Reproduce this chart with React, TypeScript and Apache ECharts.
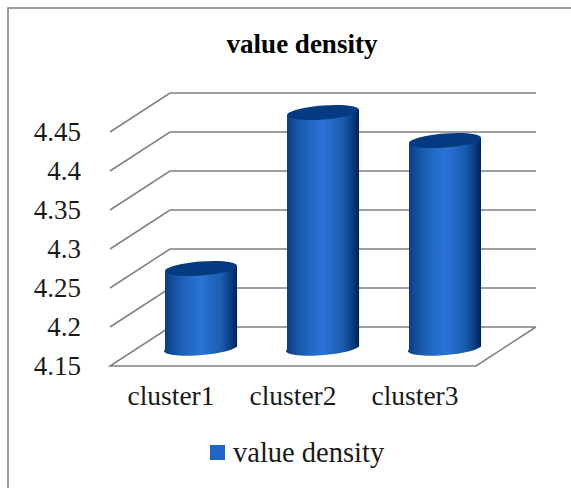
import React, { useEffect, useRef } from "react";
import * as echarts from "echarts";

const categories = ["cluster1", "cluster2", "cluster3"];
const seriesName = "value density";
const values = [4.25, 4.45, 4.414];
const yTicks = [4.15, 4.2, 4.25, 4.3, 4.35, 4.4, 4.45];

const DEPTH_X = 60;
const DEPTH_Y = 39;
const SERIF = "'Liberation Serif', 'Times New Roman', serif";
const GRID_COLOR = "#808080";

export default function App() {
  const ref = useRef<HTMLDivElement>(null);
  useEffect(() => {
    const chart = echarts.init(ref.current!, null, { renderer: "svg" });
    const bodyFill = new echarts.graphic.LinearGradient(0, 0, 1, 0, [
      { offset: 0, color: "#0b3c7e" },
      { offset: 0.2, color: "#1a5cb0" },
      { offset: 0.5, color: "#2a74d8" },
      { offset: 0.78, color: "#1a5cae" },
      { offset: 0.92, color: "#0a3a7c" },
      { offset: 1, color: "#02205a" },
    ]);
    const option: any = {
      animation: false,
      backgroundColor: "#ffffff",
      title: {
        text: seriesName,
        left: 297,
        top: 25,
        textAlign: "center",
        textStyle: { fontFamily: SERIF, fontSize: 27, fontWeight: "bold", color: "#000000" },
      },
      legend: {
        data: [seriesName],
        left: 205,
        top: 433,
        icon: "rect",
        itemWidth: 15,
        itemHeight: 15,
        itemGap: 0,
        textStyle: { fontFamily: SERIF, fontSize: 28.5, color: "#1a1a1a", padding: [0, 0, 0, 3] },
      },
      grid: { left: 110, top: 132, width: 366, height: 234 },
      xAxis: {
        type: "category",
        data: categories,
        axisLine: { show: false },
        axisTick: { show: false },
        axisLabel: { fontFamily: SERIF, fontSize: 27.5, color: "#1a1a1a", margin: 15 },
      },
      yAxis: {
        type: "value",
        min: 4.15,
        max: 4.45,
        interval: 0.05,
        axisLine: { show: false },
        axisTick: { show: false },
        splitLine: { show: false },
        axisLabel: { fontFamily: SERIF, fontSize: 27, color: "#1a1a1a", margin: 29 },
      },
      graphic: [
        {
          type: "polyline",
          silent: true,
          shape: { points: [[8, 488], [8, 8], [571, 8]] },
          style: { stroke: "#7f7f7f", lineWidth: 1.5, fill: "none" },
        },
      ],
      series: [
        {
          type: "custom",
          name: "walls",
          silent: true,
          z: 1,
          data: yTicks.map((t) => [0, t]),
          encode: { x: 0, y: 1 },
          renderItem: (params: any, api: any) => {
            const y = api.coord([0, api.value(1)])[1];
            const x0 = params.coordSys.x;
            const x1 = x0 + params.coordSys.width;
            const points =
              params.dataIndex === 0
                ? [
                    [x1 + DEPTH_X, y - DEPTH_Y],
                    [x0 + DEPTH_X, y - DEPTH_Y],
                    [x0, y],
                    [x1, y],
                    [x1 + DEPTH_X, y - DEPTH_Y],
                  ]
                : [
                    [x0, y],
                    [x0 + DEPTH_X, y - DEPTH_Y],
                    [x1 + DEPTH_X, y - DEPTH_Y],
                  ];
            return {
              type: "polyline",
              shape: { points },
              style: { stroke: GRID_COLOR, lineWidth: 1.5, fill: "none" },
            };
          },
        },
        {
          type: "custom",
          name: seriesName,
          silent: true,
          z: 2,
          itemStyle: { color: "#1f66c6" },
          data: values.map((v, i) => [i, v]),
          encode: { x: 0, y: 1 },
          renderItem: (_params: any, api: any) => {
            const i = api.value(0);
            const top = api.coord([i, api.value(1)]);
            const base = api.coord([i, yTicks[0]]);
            const cx = top[0] + DEPTH_X / 2;
            const yTop = top[1] - DEPTH_Y / 2;
            const yBase = base[1] - DEPTH_Y / 2;
            const rx = 36.1;
            const ry = 7;
            const rotDeg = 4.5;
            const rad = (rotDeg * Math.PI) / 180;
            const s = Math.sin(rad);
            const c = Math.cos(rad);
            const halfW = Math.sqrt(rx * rx * c * c + ry * ry * s * s);
            const tilt = ((rx * rx - ry * ry) * s * c) / halfW;
            const l = cx - halfW;
            const r = cx + halfW;
            const body = `M${l} ${yTop + tilt} L${l} ${yBase + tilt} A${rx} ${ry} ${-rotDeg} 0 0 ${r} ${yBase - tilt} L${r} ${yTop - tilt} Z`;
            return {
              type: "group",
              children: [
                { type: "path", shape: { pathData: body }, style: { fill: bodyFill } },
                {
                  type: "ellipse",
                  x: cx,
                  y: yTop,
                  rotation: rad,
                  shape: { cx: 0, cy: 0, rx, ry },
                  style: { fill: "#043a82" },
                },
              ],
            };
          },
        },
      ],
    };
    chart.setOption(option);
    return () => chart.dispose();
  }, []);
  return <div ref={ref} style={{ position: "absolute", left: 0, top: 0, width: 571, height: 488 }} />;
}
